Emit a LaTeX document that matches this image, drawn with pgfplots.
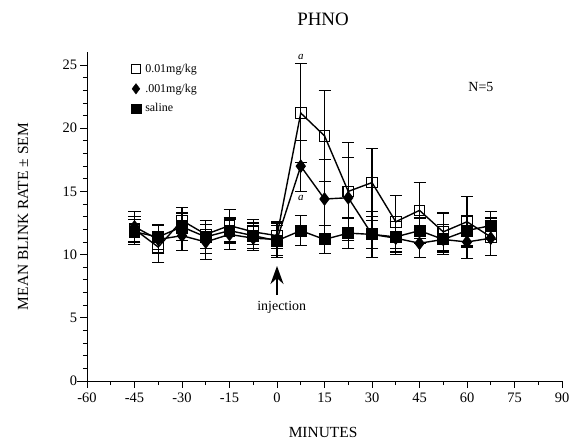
\documentclass[border=0pt]{standalone}
\usepackage{fontspec}
\setmainfont{Liberation Serif}
\usepackage{pgfplots}
\pgfplotsset{compat=1.18}
\usepackage{pgfplotstable}
\usetikzlibrary{arrows.meta}

% mean blink rate and SEM
\pgfplotstableread{
x     y     e
-45   12.0  1.0
-37.5 10.6  1.2
-30   12.7  1.0
-22.5 11.6  1.1
-15   12.3  1.3
-7.5  11.8  1.0
0     11.5  1.0
7.5   21.2  3.9
15    19.4  3.6
22.5  15.0  3.9
30    15.7  2.7
37.5  12.6  2.1
45    13.5  2.2
52.5  11.8  1.5
60    12.6  2.0
67.5  11.4  1.5
}\highdose

\pgfplotstableread{
x     y     e
-45   12.2  1.2
-37.5 11.2  1.1
-30   11.5  1.2
-22.5 11.0  1.4
-15   11.6  1.2
-7.5  11.3  1.0
0     11.2  1.4
7.5   17.0  2.0
15    14.4  3.1
22.5  14.5  3.2
30    11.6  1.8
37.5  11.3  1.3
45    10.9  1.1
52.5  11.2  1.2
60    11.0  1.3
67.5  11.3  1.4
}\lowdose

\pgfplotstableread{
x     y     e
-45   11.8  1.0
-37.5 11.4  1.0
-30   12.2  1.1
-22.5 11.4  1.3
-15   11.9  1.0
-7.5  11.5  1.0
0     11.1  1.2
7.5   11.9  1.2
15    11.2  1.1
22.5  11.7  1.2
30    11.6  1.1
37.5  11.4  1.2
45    11.9  1.0
52.5  11.2  1.0
60    11.9  1.2
67.5  12.3  1.1
}\saline

\pgfplotsset{
    sembars/.style={
        error bars/y dir=both, error bars/y explicit,
        error bars/error bar style={line width=1.2pt},
        error bars/error mark options={line width=1.2pt, mark size=6bp, rotate=90},
    },
}

\begin{document}
\begin{tikzpicture}
\useasboundingbox (-87bp,-59bp) rectangle (483bp,381bp);
\begin{axis}[
    scale only axis,
    width=475bp, height=328.6bp,
    xmin=-60, xmax=90, ymin=0, ymax=26,
    axis x line=bottom, axis y line=left,
    axis line style={-, line width=0.9pt},
    xtick={-60,-45,...,90}, ytick={0,5,...,25},
    minor x tick num=1, minor y tick num=4,
    tick align=outside,
    major tick length=6.5bp, minor tick length=4bp,
    tick style={black, line width=0.9pt},
    /pgf/number format/assume math mode=true,
    ticklabel style={font=\fontsize{14.5}{17}\selectfont},
    xticklabel style={yshift=-2bp},
    xlabel={MINUTES},
    ylabel={MEAN BLINK RATE ± SEM},
    every axis x label/.style={at={(axis description cs:0.497,-0.158)}, anchor=center,
        font=\fontsize{15.5}{18}\selectfont},
    every axis y label/.style={at={(axis description cs:-0.1347,0.5)}, anchor=center,
        rotate=90, font=\fontsize{15.5}{18}\selectfont},
    title={PHNO},
    every axis title/.style={at={(axis description cs:0.497,1.1017)}, anchor=center,
        font=\fontsize{19}{21}\selectfont},
    legend style={at={(axis description cs:0.0926,0.971)}, anchor=north west,
        draw=none, fill=none, inner sep=0pt,
        font=\fontsize{12}{14}\selectfont, row sep=6bp,
        nodes={inner xsep=4.5bp}},
    legend cell align=left,
    legend image code/.code={\draw[#1] plot coordinates {(5bp,0bp)};},
    clip=false,
]
\addlegendimage{only marks, mark=square, mark size=4.8bp, mark options={fill=white, line width=0.9pt}}
\addlegendentry{0.01mg/kg}
\addlegendimage{only marks, mark=diamond*, mark size=5.2bp, mark options={fill=black}}
\addlegendentry{.001mg/kg}
\addlegendimage{only marks, mark=square*, mark size=4.8bp, mark options={fill=black}}
\addlegendentry{saline}

\addplot[forget plot, black, line width=1.4pt, mark=diamond*, mark size=5.8bp,
    mark options={fill=black}, sembars]
    table[x=x, y=y, y error=e] {\lowdose};
\addplot[forget plot, black, line width=1.4pt, mark=square*, mark size=5.3bp,
    mark options={fill=black}, sembars]
    table[x=x, y=y, y error=e] {\saline};
\addplot[forget plot, black, line width=1.4pt, mark=square, mark size=5.3bp,
    mark options={fill=white, line width=1.1pt}, sembars]
    table[x=x, y=y, y error=e] {\highdose};
\addplot[forget plot, only marks, mark=*, mark size=0.6bp, black]
    table[x=x, y=y] {\highdose};

\draw[line width=0.9pt] (axis cs:-63,0) -- (axis cs:-60,0);
\node[font=\itshape\fontsize{11}{13}\selectfont] at (axis cs:7.5,25.6) {a};
\node[font=\itshape\fontsize{11}{13}\selectfont] at (axis cs:7.5,14.5) {a};
\node[font=\fontsize{14}{16}\selectfont] at (axis cs:64.4,23.3) {N=5};
\draw[line width=1.8pt, -{Stealth[length=18bp, width=13bp]}] (axis cs:0,6.8) -- (axis cs:0,9.1);
\node[font=\fontsize{14}{16}\selectfont] at (axis cs:1.5,5.8) {injection};
\end{axis}
\end{tikzpicture}
\end{document}
